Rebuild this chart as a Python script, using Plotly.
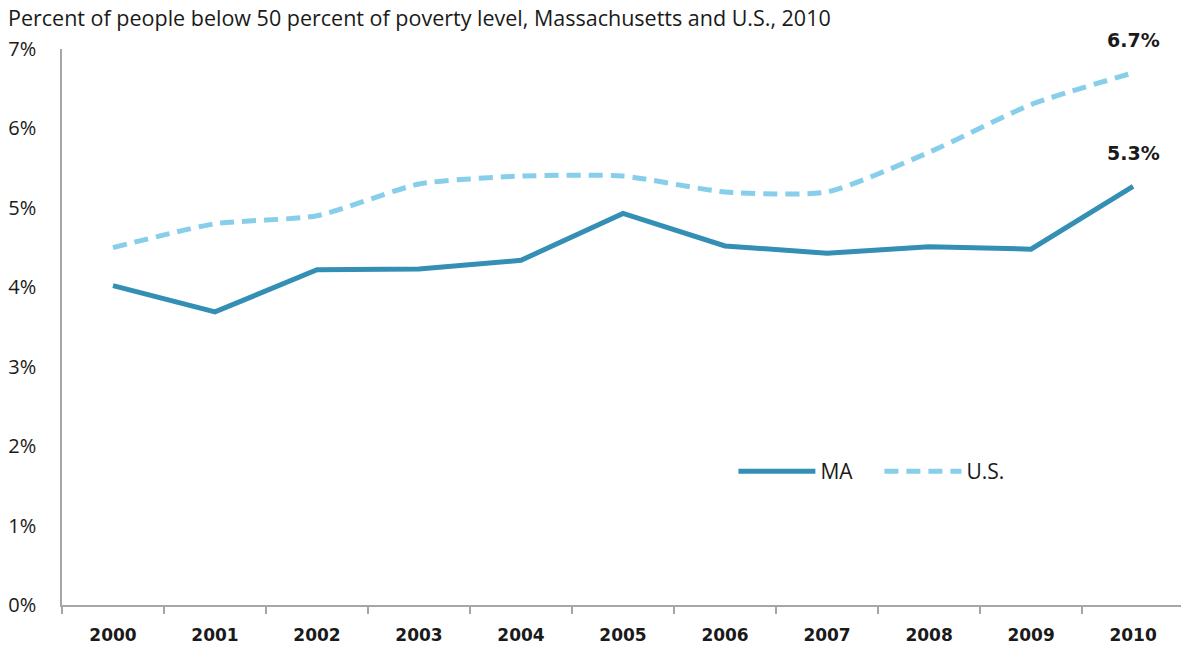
import plotly.graph_objects as go

# Poverty data: share of people below 50% of the poverty level
years = ["2000", "2001", "2002", "2003", "2004", "2005", "2006", "2007", "2008", "2009", "2010"]
ma_values = [4.02, 3.69, 4.22, 4.23, 4.34, 4.93, 4.52, 4.43, 4.51, 4.48, 5.27]
us_values = [4.5, 4.8, 4.9, 5.3, 5.4, 5.4, 5.2, 5.2, 5.7, 6.3, 6.7]
y_ticks = [0, 1, 2, 3, 4, 5, 6, 7]
y_tick_text = [f"{v}%" for v in y_ticks]

x_pos = list(range(len(years)))

MA_COLOR = "#348FB4"
US_COLOR = "#87CEEB"
FONT = "Open Sans, sans-serif"
BOLD_FONT = "DejaVu Sans, sans-serif"
TEXT = "#1a1a1a"

fig = go.Figure()
fig.add_trace(go.Scatter(
    x=x_pos, y=ma_values, name="MA", mode="lines",
    line=dict(color=MA_COLOR, width=5),
))
fig.add_trace(go.Scatter(
    x=x_pos, y=us_values, name="U.S.", mode="lines",
    line=dict(color=US_COLOR, width=5, dash="14px,8px", shape="spline", smoothing=0.6),
))

# Bold end-of-series value labels
for series in (us_values, ma_values):
    fig.add_annotation(x=x_pos[-1], y=series[-1], text=f"<b>{series[-1]:.1f}%</b>",
                       showarrow=False, yshift=33,
                       font=dict(size=19, color=TEXT, family=BOLD_FONT))

fig.update_layout(
    width=1181, height=648,
    margin=dict(l=62, r=0, t=49, b=43, autoexpand=False),
    paper_bgcolor="white", plot_bgcolor="white",
    font=dict(family=FONT, color=TEXT),
    title=dict(
        text="Percent of people below 50 percent of poverty level, Massachusetts and U.S., 2010",
        xref="container", yref="container", x=8 / 1181, y=1 - 18 / 648,
        xanchor="left", yanchor="middle",
        font=dict(size=21.5, color=TEXT, family=FONT),
    ),
    showlegend=True,
    legend=dict(
        orientation="h", x=0.6, y=0.24, xanchor="left", yanchor="middle",
        font=dict(size=21, color=TEXT, family=FONT),
        bgcolor="rgba(0,0,0,0)", itemwidth=77,
        entrywidth=54, entrywidthmode="pixels",
    ),
    xaxis=dict(
        range=[-0.5, 10.47],
        tickmode="array", tickvals=x_pos, ticktext=years,
        ticks="", showgrid=False, zeroline=False,
        showline=True, linecolor="#a6a6a6", linewidth=1.5,
        tickfont=dict(size=17, color=TEXT, family=BOLD_FONT, weight="bold"),
        ticklabelstandoff=14,
        minor=dict(tick0=-0.5, dtick=1, ticks="outside", ticklen=7,
                   tickcolor="#a6a6a6", tickwidth=1.5, showgrid=False),
    ),
    yaxis=dict(
        range=[0, 7],
        tickmode="array", tickvals=y_ticks, ticktext=y_tick_text,
        ticks="outside", ticklen=20, tickcolor="rgba(0,0,0,0)",
        showgrid=False, zeroline=False,
        showline=True, linecolor="#a6a6a6", linewidth=1.5,
        tickfont=dict(size=20, color=TEXT, family=FONT),
    ),
)

fig.write_html("out.html")
